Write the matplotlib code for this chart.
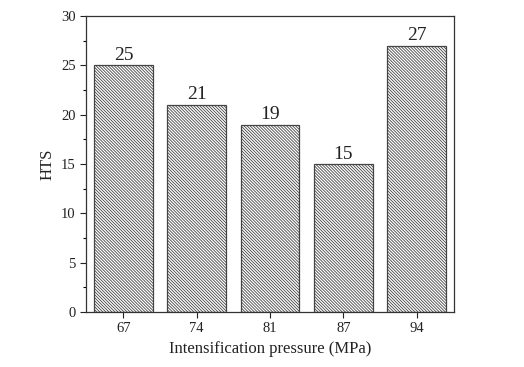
import matplotlib
matplotlib.use('Agg')
import matplotlib.pyplot as plt
from matplotlib.ticker import MultipleLocator

# data
pressures = ['67', '74', '81', '87', '94']
hts = [25, 21, 19, 15, 27]

plt.rcParams['font.family'] = ['Liberation Serif', 'DejaVu Serif']
plt.rcParams['hatch.color'] = '#a0a0a0'
plt.rcParams['hatch.linewidth'] = 0.6

fig = plt.figure(figsize=(5.24, 3.67), dpi=100)
ax = fig.add_axes([86 / 524, 1 - 312 / 367, 368 / 524, 296 / 367])

x = range(len(pressures))
bars = ax.bar(x, hts, width=0.8, color='white', edgecolor='#444444',
              linewidth=0.9, hatch='\\' * 11)

for b, v in zip(bars, hts):
    ax.text(b.get_x() + b.get_width() / 2, v + 0.15, str(v),
            ha='center', va='bottom', fontsize=14, color='#222222')

ax.set_xlim(-0.51, 4.51)
ax.set_ylim(0, 30)
ax.set_xticks(list(x))
ax.set_xticklabels(pressures)
ax.yaxis.set_major_locator(MultipleLocator(5))
ax.yaxis.set_minor_locator(MultipleLocator(2.5))
ax.tick_params(axis='both', direction='out', labelsize=10.5, length=4, width=0.8,
               colors='#222222')
ax.tick_params(axis='y', which='minor', direction='out', length=2.5, width=0.8)
for s in ax.spines.values():
    s.set_linewidth(0.9)
    s.set_color('#333333')

ax.set_xlabel('Intensification pressure (MPa)', fontsize=12, color='#222222')
ax.set_ylabel('HTS', fontsize=12, color='#222222')

fig.savefig('out.png', dpi=100)
